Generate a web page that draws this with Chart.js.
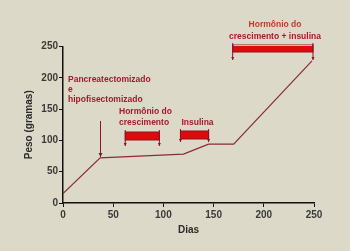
<!DOCTYPE html>
<html>
<head>
<meta charset="utf-8">
<script src="https://cdn.jsdelivr.net/npm/chart.js@4"></script>
<style>
  html, body { margin: 0; padding: 0; background: #dcd9c9; }
  #wrap { width: 350px; height: 251px; }
</style>
</head>
<body>
<div id="wrap"><canvas id="pesoChart" width="350" height="251"></canvas></div>
<script>
// ── Data ──
const days   = [0, 37, 120, 145, 170, 248];
const weight = [15, 72, 78, 94, 94, 227];
const xTicks = [0, 50, 100, 150, 200, 250];
const yTicks = [0, 50, 100, 150, 200, 250];

// treatment periods (days)
const ghPeriod    = [62, 96];
const insPeriod   = [117, 145];
const bothPeriod  = [169, 249];
const surgeryDay  = 37;

const RED_TXT = '#a8182a';

// ── Annotation plugin ──
const annotations = {
  id: 'annotations',
  beforeDraw(chart) {
    const c = chart.ctx;
    c.save();
    c.fillStyle = '#dcd9c9';
    c.fillRect(0, 0, chart.width, chart.height);
    c.restore();
  },
  afterDatasetsDraw(chart) {
    const c = chart.ctx;
    const X = v => chart.scales.x.getPixelForValue(v);
    const Y = v => chart.scales.y.getPixelForValue(v);

    function arrowDown(x, y1, y2, head) {
      c.beginPath();
      c.moveTo(x, y1);
      c.lineTo(x, y2);
      c.stroke();
      c.beginPath();
      c.moveTo(x - head / 2, y2 - head);
      c.lineTo(x + head / 2, y2 - head);
      c.lineTo(x, y2);
      c.closePath();
      c.fill();
    }

    function bar(from, to, top, bottom, endTop, endBottom, yellow) {
      const x1 = X(from), x2 = X(to);
      c.fillStyle = '#dd0b0b';
      c.fillRect(x1, top, x2 - x1, bottom - top);
      c.strokeStyle = '#8e1222';
      c.lineWidth = 1;
      c.strokeRect(x1, top, x2 - x1, bottom - top);
      if (yellow) {
        c.strokeStyle = '#f2c23a';
        c.beginPath();
        c.moveTo(x1 + 1, top + 0.5);
        c.lineTo(x2 - 1, top + 0.5);
        c.stroke();
      }
      c.strokeStyle = '#8e1222';
      c.fillStyle = '#8e1222';
      arrowDown(x1, endTop, endBottom, 3);
      arrowDown(x2, endTop, endBottom, 3);
    }

    c.save();
    c.textBaseline = 'middle';
    c.font = 'bold 8.5px "Liberation Sans", Arial, sans-serif';
    c.fillStyle = RED_TXT;

    // surgery label + arrow
    c.textAlign = 'left';
    c.fillText('Pancreatectomizado', X(5), 80);
    c.fillText('e', X(5), 90);
    c.fillText('hipofisectomizado', X(5), 99.5);
    c.strokeStyle = '#8e1222';
    c.fillStyle = '#8e1222';
    c.lineWidth = 1;
    arrowDown(Math.round(X(surgeryDay)) + 0.5, 121, Y(weight[1]) - 1, 4);

    // growth hormone
    c.fillStyle = RED_TXT;
    c.fillText('Hormônio do', 119, 112);
    c.fillText('crescimento', 119, 123);
    bar(ghPeriod[0], ghPeriod[1], 132, 140, 130, 146, false);

    // insulin
    c.fillStyle = RED_TXT;
    c.font = 'bold 8.5px "Liberation Sans", Arial, sans-serif';
    c.fillText('Insulina', X(insPeriod[0]) + 1, 123);
    bar(insPeriod[0], insPeriod[1], 131, 139, 129, 142, false);

    // growth hormone + insulin
    c.textAlign = 'center';
    c.fillStyle = '#c8382a';
    c.fillText('Hormônio do', 275, 25);
    c.fillStyle = RED_TXT;
    c.fillText('crescimento + insulina', 275, 37);
    bar(bothPeriod[0], bothPeriod[1], 45, 52, 43, 60, true);

    c.restore();
  }
};

// ── Chart ──
function initChart() {
  const ctx = document.getElementById('pesoChart');

  new Chart(ctx, {
    type: 'line',
    data: {
      datasets: [{
        data: days.map((d, i) => ({ x: d, y: weight[i] })),
        borderColor: '#8a2a3a',
        borderWidth: 1.2,
        pointRadius: 0,
        tension: 0,
        fill: false
      }]
    },
    options: {
      responsive: false,
      animation: false,
      devicePixelRatio: 1,
      layout: { padding: { left: 0, right: 36, top: 46.5, bottom: 0 } },
      plugins: { legend: { display: false }, tooltip: { enabled: false } },
      scales: {
        x: {
          type: 'linear',
          min: 0, max: 250,
          afterBuildTicks: s => { s.ticks = xTicks.map(v => ({ value: v })); },
          afterFit: s => { s.height = 48; },
          grid: { drawOnChartArea: false, tickLength: 4, color: '#111', lineWidth: 1 },
          border: { color: '#111', width: 1.5 },
          ticks: { padding: 2, color: '#3a3a3a', font: { family: '"Liberation Sans", Arial, sans-serif', size: 10, weight: 'bold' } },
          title: { display: true, text: 'Dias', color: '#2a2a2a', padding: { top: 0, bottom: 15 },
                   font: { family: '"Liberation Sans", Arial, sans-serif', size: 10, weight: 'bold' } }
        },
        y: {
          min: 0, max: 250,
          afterBuildTicks: s => { s.ticks = yTicks.map(v => ({ value: v })); },
          afterFit: s => { s.width = 63; },
          grid: { drawOnChartArea: false, tickLength: 4, color: '#111', lineWidth: 1 },
          border: { color: '#111', width: 1.5 },
          ticks: { padding: 1, color: '#3a3a3a', font: { family: '"Liberation Sans", Arial, sans-serif', size: 10, weight: 'bold' } },
          title: { display: true, text: 'Peso (gramas)', color: '#2a2a2a', padding: { top: 23, bottom: 0 },
                   font: { family: '"Liberation Sans", Arial, sans-serif', size: 10, weight: 'bold' } }
        }
      }
    },
    plugins: [annotations]
  });
}

initChart();
</script>
</body>
</html>
